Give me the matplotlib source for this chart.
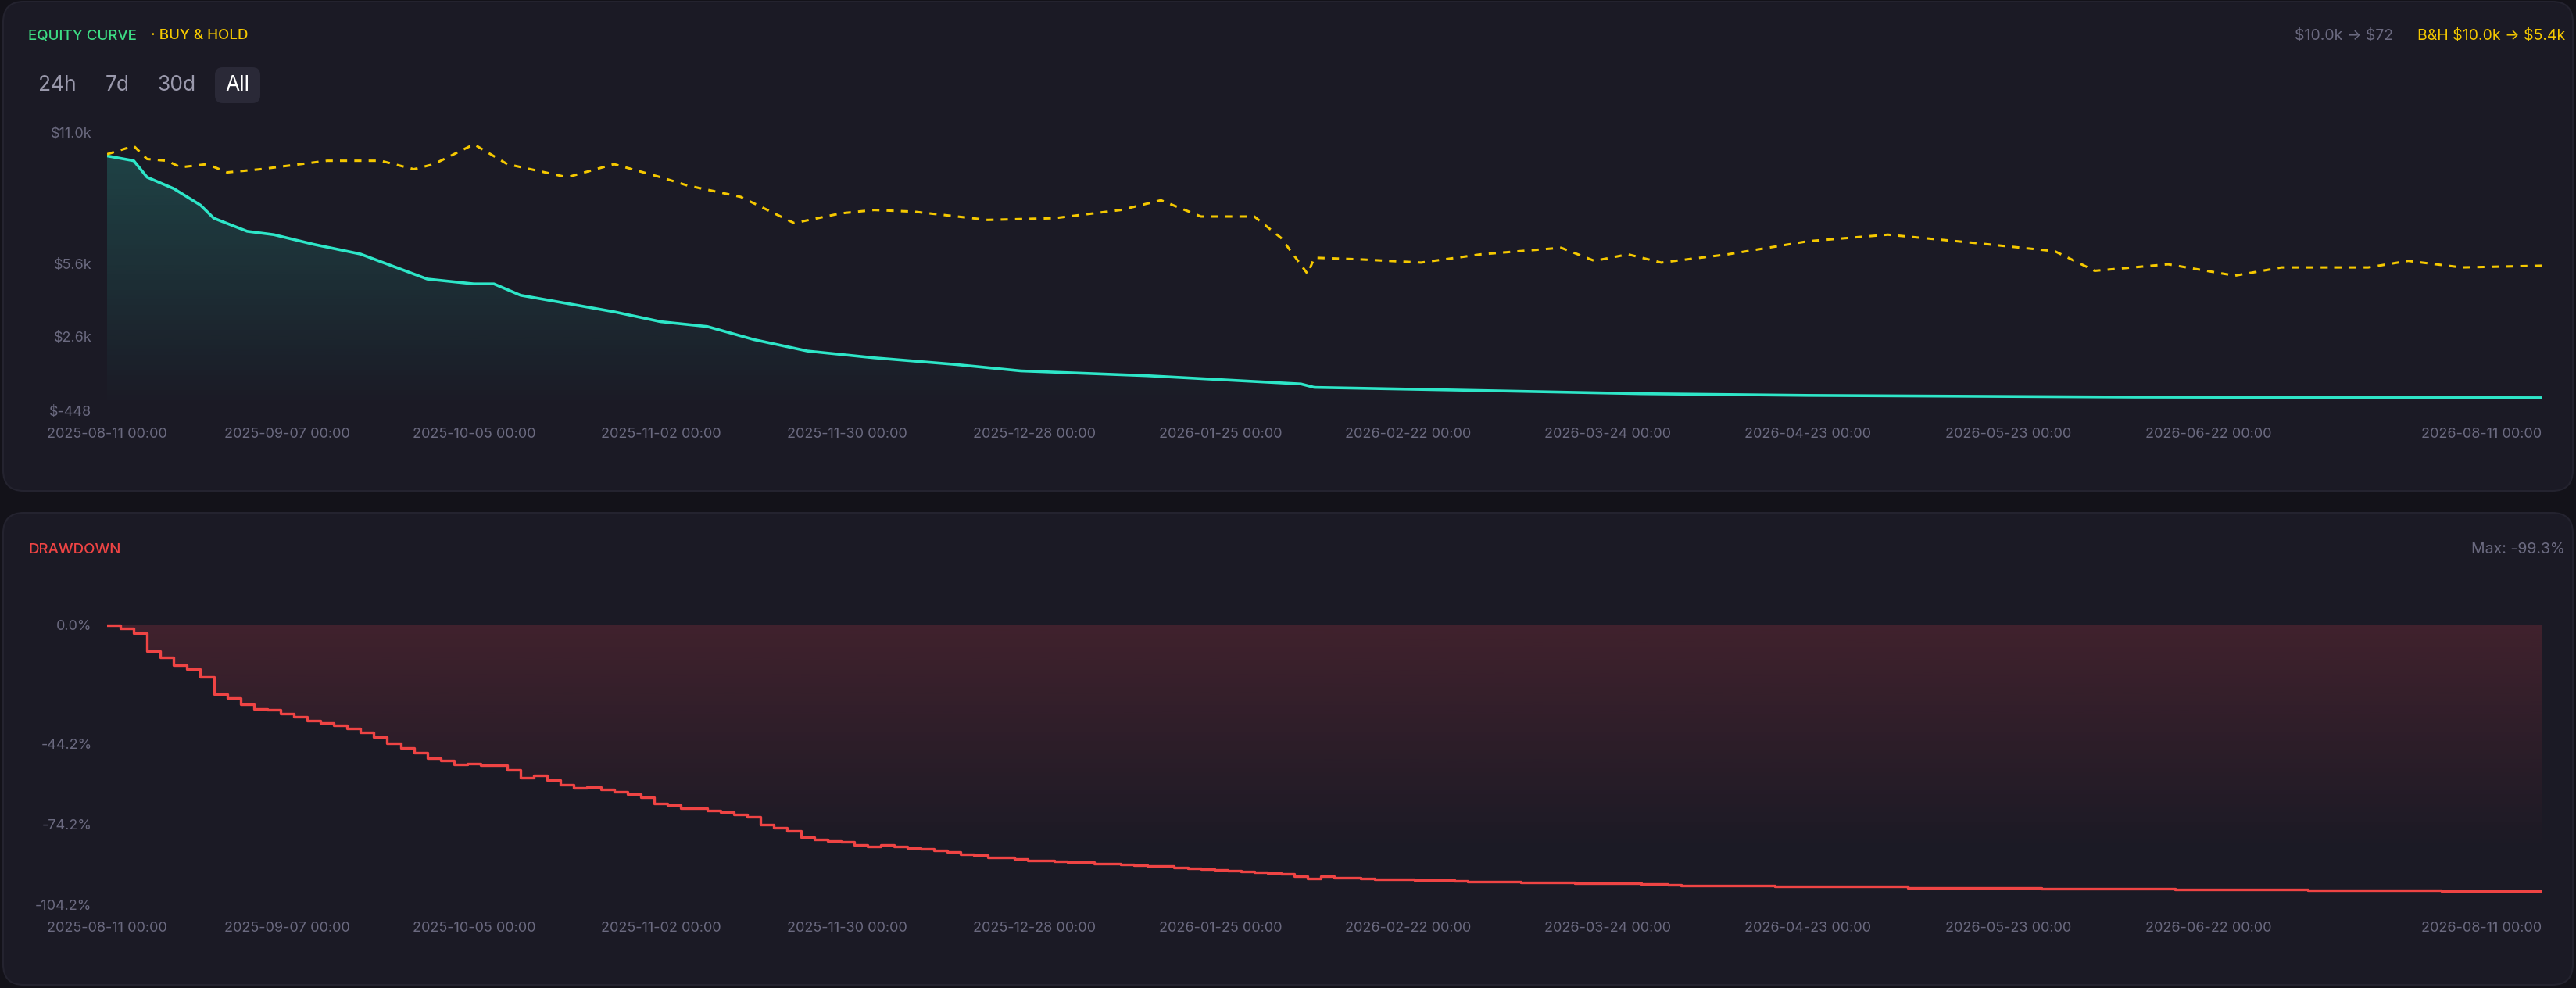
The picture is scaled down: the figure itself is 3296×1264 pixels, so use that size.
import numpy as np
import matplotlib
matplotlib.use("Agg")
import matplotlib.pyplot as plt
import matplotlib.dates as mdates
from matplotlib.patches import FancyBboxPatch
import datetime as dt

plt.rcParams['font.family'] = ['Inter', 'DejaVu Sans']
plt.rcParams['text.parse_math'] = False

start = dt.datetime(2025, 8, 11)
eq_days = [0, 4, 6, 10, 14, 16, 21, 25, 31, 38, 48, 55, 58, 62, 69, 76, 83, 90, 97, 105, 115, 127, 137, 156, 179, 181, 206, 230, 255, 304, 365]
eq_vals = [10050, 9850, 9170, 8700, 8020, 7480, 6940, 6800, 6400, 6000, 4970, 4770, 4770, 4300, 3960, 3620, 3210, 3010, 2470, 2000, 1720, 1450, 1180, 980, 640, 500, 370, 240, 170, 100, 72]
bh_days = [0, 4, 6, 9, 11, 15, 18, 23, 33, 41, 46, 49, 55, 60, 69, 76, 83, 87, 95, 103, 110, 115, 121, 132, 142, 152, 158, 164, 172, 176, 180, 181, 188, 197, 206, 218, 223, 228, 233, 243, 255, 267, 280, 292, 298, 309, 319, 326, 339, 345, 353, 365]
bh_vals = [10120, 10460, 9920, 9850, 9580, 9710, 9370, 9500, 9850, 9850, 9500, 9710, 10530, 9710, 9170, 9710, 9170, 8830, 8360, 7280, 7680, 7820, 7750, 7410, 7480, 7820, 8220, 7550, 7550, 6670, 5180, 5850, 5780, 5650, 5990, 6260, 5720, 5990, 5650, 5990, 6530, 6800, 6460, 6120, 5310, 5580, 5110, 5450, 5450, 5720, 5450, 5520]
# drawdown, sampled every 2 days (day 0..240), then sparse tail
dd_head = [0, -1.3, -3.0, -9.8, -11.9, -14.9, -16.4, -19.4, -25.8, -27.3, -29.5, -31.3, -31.5, -33.0, -34.2, -35.7,
           -36.5, -37.5, -38.5, -39.9, -41.9, -44.0, -45.9, -47.7, -49.7, -50.6, -52.0, -51.6, -52.2, -52.2, -53.9,
           -56.9, -56.1, -57.7, -59.7, -60.6, -60.5, -61.2, -62.1, -63.1, -64.2, -66.6, -67.1, -68.3, -68.2, -69.3,
           -69.8, -70.7, -71.4, -74.5, -75.7, -76.7, -79.0,
           -79.9, -80.7, -81.0, -81.9, -82.7, -81.9, -82.5, -83.1, -83.4, -84.0, -84.6, -85.4, -85.9, -86.6, -86.6,
           -87.4, -87.9, -88.0, -88.2, -88.5, -88.5, -88.9, -88.9, -89.2, -89.6, -89.8, -90.0, -90.4, -90.7, -91.1,
           -91.4, -91.7, -91.9, -92.1, -92.5, -92.9, -93.6, -94.6, -93.8, -94.3, -94.3, -94.5, -94.8, -94.8, -95.0,
           -95.2, -95.2, -95.3, -95.4, -95.6, -95.6, -95.6, -95.8, -96.0, -96.0, -96.0, -96.0, -96.2, -96.2, -96.4,
           -96.4, -96.4, -96.7, -96.7, -96.9, -97.2, -97.2, -97.2]
dd_tail_days = [250, 270, 290, 310, 330, 350, 364, 365]
dd_tail_vals = [-97.5, -98.0, -98.4, -98.7, -99.0, -99.2, -99.3, -99.3]
eq_ticks = [-448, 2600, 5600, 11000]
eq_tick_labels = ["$-448", "$2.6k", "$5.6k", "$11.0k"]
dd_ticks = [-104.2, -74.2, -44.2, 0.0]
dd_tick_labels = ["-104.2%", "-74.2%", "-44.2%", "0.0%"]
x_tick_dates = ["2025-08-11", "2025-09-07", "2025-10-05", "2025-11-02", "2025-11-30", "2025-12-28", "2026-01-25", "2026-02-22", "2026-03-24", "2026-04-23", "2026-05-23", "2026-06-22", "2026-08-11"]

dd_days = [2 * i for i in range(len(dd_head))] + dd_tail_days
dd_vals = dd_head + dd_tail_vals

BG = "#131219"; PANEL = "#1b1a25"; TICK = "#6b6a80"
W, H = 3296, 1264
fig = plt.figure(figsize=(W/100, H/100), dpi=100, facecolor=BG)

def panel(y0, y1):
    p = FancyBboxPatch((4/W, 1-y1/H), (W-8)/W, (y1-y0)/H, boxstyle="round,pad=0,rounding_size=0.008",
                       transform=fig.transFigure, facecolor=PANEL, edgecolor="#24232f", lw=1.5,
                       mutation_aspect=W/H, zorder=-10)
    fig.patches.append(p)
panel(2, 628)
panel(656, 1260)

def d(days):
    return [start + dt.timedelta(days=x) for x in days]

xt = [dt.datetime.strptime(s, "%Y-%m-%d") for s in x_tick_dates]
xlim = (start, start + dt.timedelta(days=365))

def style(ax):
    ax.set_facecolor("none")
    for s in ax.spines.values():
        s.set_visible(False)
    ax.tick_params(colors=TICK, length=0, labelsize=13)
    ax.tick_params(axis='y', pad=14)
    ax.set_xticks(xt)
    labs = ax.set_xticklabels([s + " 00:00" for s in x_tick_dates])
    labs[-1].set_ha('right')
    ax.tick_params(axis='x', pad=16)

def grad_fill(ax, x, y, base, color, a_top, a_bot, ylo, yhi, step=None):
    poly = ax.fill_between(x, y, base, color="none", lw=0, step=step)
    rgb = matplotlib.colors.to_rgb(color)
    g = np.zeros((256, 1, 4))
    g[:, 0, :3] = rgb
    g[:, 0, 3] = np.linspace(a_top, a_bot, 256)
    im = ax.imshow(g, aspect='auto', extent=[mdates.date2num(xlim[0]), mdates.date2num(xlim[1]), ylo, yhi],
                   origin='upper', zorder=1)
    im.set_clip_path(poly.get_paths()[0], transform=ax.transData)

# Equity axes
ax1 = fig.add_axes([137/W, 1-525/H, (3252-137)/W, (525-170)/H])
style(ax1)
ex = d(eq_days)
grad_fill(ax1, ex, eq_vals, -448, "#2ee6c8", 0.2, 0.0, -448, 10100)
ax1.plot(ex, eq_vals, color="#2ee6c8", lw=2.6, zorder=3)
ax1.plot(d(bh_days), bh_vals, color="#f5c800", lw=2.2, ls=(0, (3, 3)), zorder=3)
ax1.set_xlim(*xlim)
ax1.set_ylim(-448, 11000)
ax1.set_yticks(eq_ticks)
ax1.set_yticklabels(eq_tick_labels)

# Drawdown axes
ax2 = fig.add_axes([137/W, 1-1157/H, (3252-137)/W, (1157-798)/H])
style(ax2)
dx = d(dd_days)
grad_fill(ax2, dx, dd_vals, 0, "#d9414f", 0.2, 0.0, -85, 0, step='post')
ax2.step(dx, dd_vals, where='post', color="#ef4444", lw=2.4, zorder=3)
ax2.set_xlim(*xlim)
ax2.set_ylim(-104.2, 0.5)
ax2.set_yticks(dd_ticks)
ax2.set_yticklabels(dd_tick_labels)

# Texts
fig.text(36/W, 1-46/H, "EQUITY CURVE", color="#3ddc84", fontsize=13.5, va='center', fontweight='medium')
fig.text(193/W, 1-46/H, "· BUY & HOLD", color="#f5c800", fontsize=13.5, va='center', fontweight='medium')
fig.text(3062/W, 1-46/H, "$10.0k → $72", color=TICK, fontsize=14, va='center', ha='right')
fig.text(3282/W, 1-46/H, "B&H $10.0k → $5.4k", color="#f5c800", fontsize=14, va='center', ha='right')
fig.text(36/W, 1-703/H, "DRAWDOWN", color="#ef4444", fontsize=13.5, va='center', fontweight='medium')
fig.text(3282/W, 1-703/H, "Max: -99.3%", color=TICK, fontsize=14, va='center', ha='right')

btn = FancyBboxPatch((275/W, 1-132/H), 58/W, 46/H, boxstyle="round,pad=0,rounding_size=0.003",
                     transform=fig.transFigure, facecolor="#2a2937", edgecolor="none", mutation_aspect=W/H, zorder=-5)
fig.patches.append(btn)
for label, xp, c in [("24h", 73, "#9a99ac"), ("7d", 150, "#9a99ac"), ("30d", 226, "#9a99ac"), ("All", 304, "#ffffff")]:
    fig.text(xp/W, 1-109/H, label, color=c, fontsize=19, va='center', ha='center')

fig.savefig("out.png", dpi=100, facecolor=BG)
